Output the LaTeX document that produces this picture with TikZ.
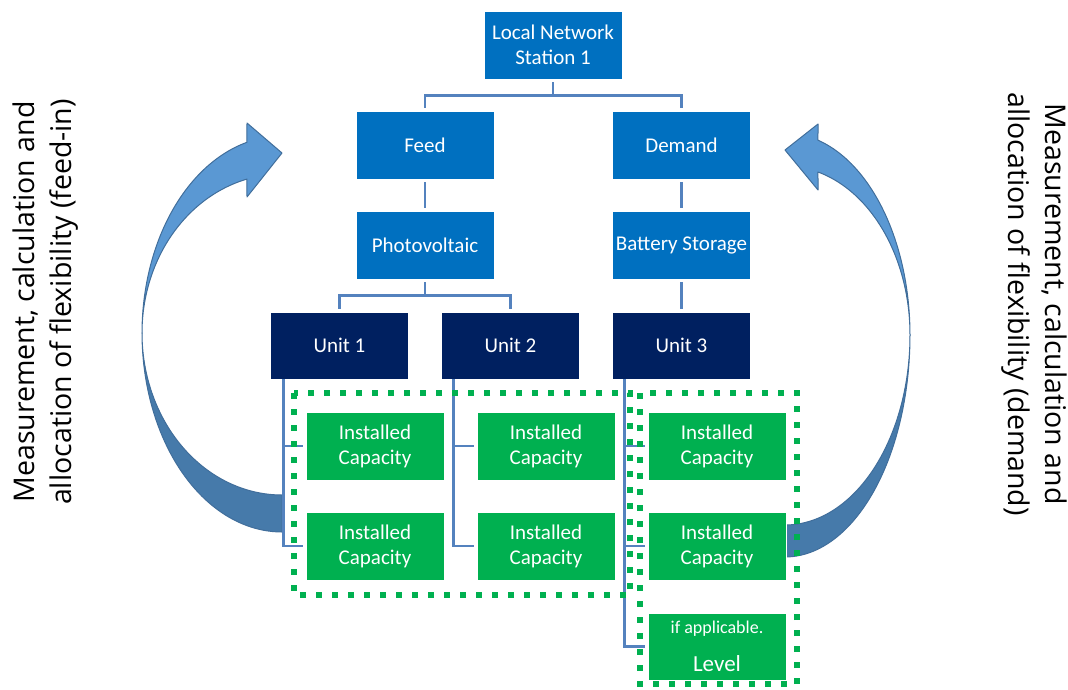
\documentclass[tikz,border=0pt]{standalone}
\usepackage{fontspec}
\setmainfont{Carlito}
\newfontfamily\sidefont{Open Sans}
\definecolor{boxblue}{RGB}{0,112,192}
\definecolor{navy}{RGB}{0,32,96}
\definecolor{capgreen}{RGB}{0,176,80}
\definecolor{connblue}{RGB}{84,130,190}
\definecolor{arrowlight}{RGB}{90,152,211}
\definecolor{arrowdark}{RGB}{70,122,170}
\definecolor{arrowline}{RGB}{65,110,155}
\begin{document}
\begin{tikzpicture}[x=1pt,y=-1pt,
  box/.style={draw=white, line width=0.6pt, text=white, font=\fontsize{21}{25}\selectfont,
    minimum width=138pt, minimum height=68pt, inner sep=1pt, align=center},
  bluebox/.style={box, fill=boxblue},
  unitbox/.style={box, fill=navy, minimum height=67pt},
  capbox/.style={box, fill=capgreen},
  conn/.style={draw=connblue, line width=2.8pt},
  dotbox/.style={draw=capgreen, line width=6pt, dash pattern=on 6pt off 10pt},
  sidetext/.style={font=\sidefont\fontsize{28.5}{37}\selectfont, align=center, text=black, inner sep=0pt},
  arrowpart/.style={draw=arrowline, line width=1pt, line join=round}
]
\useasboundingbox (0,0) rectangle (1068,689);

% curved arrows
\path[arrowpart, fill=arrowdark]
  plot[domain=90:180, samples=50] ({282+140*cos(\x)},{333+199*sin(\x)})
  -- plot[domain=180:90, samples=50] ({282+140*cos(\x)},{333+162*sin(\x)}) -- cycle;
\path[arrowpart, fill=arrowlight]
  plot[domain=180:255.5, samples=50] ({282+140*cos(\x)},{333+159*sin(\x)})
  -- (247,197) -- (282,153) -- (247,123)
  -- plot[domain=255.5:180, samples=50] ({282+140*cos(\x)},{333+197*sin(\x)}) -- cycle;

\path[arrowpart, fill=arrowdark]
  plot[domain=90:0, samples=50] ({785+125*cos(\x)},{335+222*sin(\x)})
  -- plot[domain=0:90, samples=50] ({785+125*cos(\x)},{335+190*sin(\x)}) -- cycle;
\path[arrowpart, fill=arrowlight]
  plot[domain=360:285.3, samples=50] ({785+125*cos(\x)},{335+169*sin(\x)})
  -- (818,190) -- (785,150) -- (818,124)
  -- plot[domain=285.3:360, samples=50] ({785+125*cos(\x)},{335+202*sin(\x)}) -- cycle;

% nodes
\node[bluebox] (top) at (553,45) {Local Network\\Station 1};
\node[bluebox] (feed) at (425,145) {Feed};
\node[bluebox] (dem) at (681.5,145) {Demand};
\node[bluebox] (pv) at (425,245) {Photovoltaic};
\node[bluebox] (bat) at (681.5,245) {Battery Storage};
\node[unitbox] (u1) at (339.5,345.5) {Unit 1};
\node[unitbox] (u2) at (510.5,345.5) {Unit 2};
\node[unitbox] (u3) at (681.5,345.5) {Unit 3};
\node[capbox] (c11) at (375,446) {Installed\\Capacity};
\node[capbox] (c12) at (375,546) {Installed\\Capacity};
\node[capbox] (c21) at (546,446) {Installed\\Capacity};
\node[capbox] (c22) at (546,546) {Installed\\Capacity};
\node[capbox] (c31) at (717,446) {Installed\\Capacity};
\node[capbox] (c32) at (717,546) {Installed\\Capacity};
\node[capbox, minimum height=67pt] (lvl) at (717,646.5) {{\fontsize{18}{20}\selectfont if applicable.}\\[13pt]{\fontsize{23}{27}\selectfont Level}};

% connectors
\draw[conn, shorten <=3pt, shorten >=3pt] (top.south) -- ++(0,16) -| (feed.north);
\draw[conn, shorten <=3pt, shorten >=3pt] (top.south) -- ++(0,16) -| (dem.north);
\draw[conn, shorten <=3pt, shorten >=3pt] (feed.south) -- (pv.north);
\draw[conn, shorten <=3pt, shorten >=3pt] (dem.south) -- (bat.north);
\draw[conn, shorten <=3pt, shorten >=3pt] (pv.south) -- ++(0,16) -| (u1.north);
\draw[conn, shorten <=3pt, shorten >=3pt] (pv.south) -- ++(0,16) -| (u2.north);
\draw[conn, shorten <=3pt, shorten >=3pt] (bat.south) -- (u3.north);
\draw[conn, shorten >=3pt] ([xshift=13pt]u1.south west) |- (c11.west);
\draw[conn, shorten >=3pt] ([xshift=13pt]u1.south west) |- (c12.west);
\draw[conn, shorten >=3pt] ([xshift=12pt]u2.south west) |- (c21.west);
\draw[conn, shorten >=3pt] ([xshift=12pt]u2.south west) |- (c22.west);
\draw[conn, shorten >=3pt] ([xshift=12pt]u3.south west) |- (c31.west);
\draw[conn, shorten >=3pt] ([xshift=12pt]u3.south west) |- (c32.west);
\draw[conn, shorten >=3pt] ([xshift=12pt]u3.south west) |- (lvl.west);

% dotted groups
\draw[dotbox] (294,393) rectangle (630,595);
\draw[dotbox] (640,393) rectangle (797,684);

% side texts
\node[sidetext, rotate=90] (lt) at (46,302) {Measurement, calculation and\\allocation of flexibility (feed-in)};
\node[sidetext, rotate=-90] (rt) at (1034,304) {Measurement, calculation and\\allocation of flexibility (demand)};
\end{tikzpicture}
\end{document}
